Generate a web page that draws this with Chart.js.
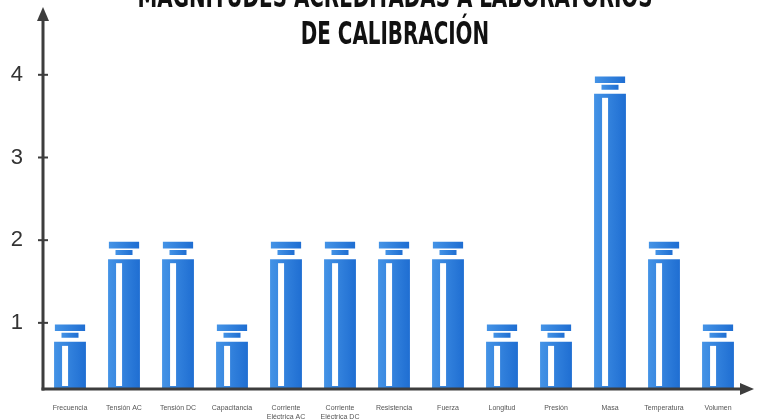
<!DOCTYPE html>
<html>
<head>
<meta charset="utf-8">
<script src="https://cdn.jsdelivr.net/npm/chart.js@4.4.1/dist/chart.umd.min.js"></script>
<style>
    html, body { margin: 0; padding: 0; background: #fff; overflow: hidden; }
    #wrap { position: relative; width: 758px; height: 419px; }
    #title {
        position: absolute; left: 16px; top: -22px; width: 758px;
        text-align: center;
        font-family: 'DejaVu Sans Condensed', 'Liberation Sans', sans-serif;
        font-weight: bold; font-size: 32px; line-height: 37px; color: #111;
        transform: scaleX(0.69); transform-origin: 50% 0;
    }
</style>
</head>
<body>
<div id="wrap">
    <canvas id="chart" width="758" height="419"></canvas>
    <div id="title">MAGNITUDES ACREDITADAS A LABORATORIOS<br>DE CALIBRACIÓN</div>
</div>
<script>
// Datos
const categories = [
    'Frecuencia', 'Tensión AC', 'Tensión DC', 'Capacitancia',
    ['Corriente', 'Eléctrica AC'], ['Corriente', 'Eléctrica DC'],
    'Resistencia', 'Fuerza', 'Longitud', 'Presión', 'Masa', 'Temperatura', 'Volumen'
];
const counts = [1, 2, 2, 1, 2, 2, 2, 2, 1, 1, 4, 2, 1];
const yTicks = [1, 2, 3, 4];

const Y_MIN = 0.2;
const Y_MAX = 4.6;
const AXIS = '#3d3d3d';

// each bar is drawn like a calibration weight: body, neck and cap
const bodyData = counts.map(v => [Y_MIN, v - 0.23]);
const neckData = counts.map(v => [v - 0.18, v - 0.12]);
const capData = counts.map(v => [v - 0.1, v - 0.02]);

// light on the left, darker on the right, once the bar has a position
function blueFill(c) {
    const el = c.chart.getDatasetMeta(c.datasetIndex).data[c.dataIndex];
    if (!el || !el.width) return '#2f82de';
    const g = c.chart.ctx.createLinearGradient(el.x - el.width / 2, 0, el.x + el.width / 2, 0);
    g.addColorStop(0, '#4493e6');
    g.addColorStop(1, '#1f6ed2');
    return g;
}

// axes with arrows, crossing ticks and the white stripe on each body
const decorPlugin = {
    id: 'decor',
    afterDatasetsDraw(chart) {
        const ctx = chart.ctx;
        const area = chart.chartArea;
        const yScale = chart.scales.y;

        ctx.save();
        ctx.fillStyle = '#ffffff';
        chart.getDatasetMeta(0).data.forEach(el => {
            const left = el.x - el.width / 2 + 8;
            ctx.fillRect(left, el.y + 4, 6, el.base - el.y - 7);
        });

        ctx.strokeStyle = AXIS;
        ctx.fillStyle = AXIS;
        ctx.lineWidth = 3;
        const x0 = area.left;
        const y0 = area.bottom;

        // y axis
        ctx.beginPath();
        ctx.moveTo(x0, y0 + 1.5);
        ctx.lineTo(x0, 18);
        ctx.stroke();
        ctx.beginPath();
        ctx.moveTo(x0, 7);
        ctx.lineTo(x0 - 6, 21);
        ctx.lineTo(x0 + 6, 21);
        ctx.closePath();
        ctx.fill();

        // x axis
        ctx.beginPath();
        ctx.moveTo(x0 - 1.5, y0);
        ctx.lineTo(742, y0);
        ctx.stroke();
        ctx.beginPath();
        ctx.moveTo(754, y0);
        ctx.lineTo(740, y0 - 6);
        ctx.lineTo(740, y0 + 6);
        ctx.closePath();
        ctx.fill();

        // tick marks crossing the y axis
        ctx.lineWidth = 2;
        yTicks.forEach(v => {
            const py = yScale.getPixelForValue(v);
            ctx.beginPath();
            ctx.moveTo(x0 - 5, py);
            ctx.lineTo(x0 + 5, py);
            ctx.stroke();
        });
        ctx.restore();
    }
};

const common = { grouped: false, categoryPercentage: 1, borderWidth: 0, borderSkipped: false, backgroundColor: blueFill };

const chart = new Chart(document.getElementById('chart'), {
    type: 'bar',
    data: {
        labels: categories,
        datasets: [
            { ...common, label: 'cuerpo', data: bodyData, barPercentage: 0.59 },
            { ...common, label: 'cuello', data: neckData, barPercentage: 0.315 },
            { ...common, label: 'tapa', data: capData, barPercentage: 0.56 }
        ]
    },
    options: {
        responsive: false,
        animation: false,
        layout: { padding: { top: 2, right: 13, left: 0, bottom: 0 } },
        plugins: {
            legend: { display: false },
            title: { display: false },
            tooltip: { enabled: false }
        },
        scales: {
            x: {
                offset: true,
                grid: { display: false },
                border: { display: false },
                ticks: {
                    autoSkip: false,
                    maxRotation: 0,
                    padding: 7,
                    color: '#555',
                    font: { family: 'Liberation Sans, Arial, sans-serif', size: 7 }
                },
                afterFit(scale) { scale.height = 30; }
            },
            y: {
                min: Y_MIN,
                max: Y_MAX,
                grid: { display: false },
                border: { display: false },
                afterBuildTicks(scale) { scale.ticks = yTicks.map(v => ({ value: v })); },
                ticks: {
                    padding: 12,
                    color: '#333',
                    font: { family: 'Liberation Sans, Arial, sans-serif', size: 22 }
                },
                afterFit(scale) { scale.width = 43; }
            }
        }
    },
    plugins: [decorPlugin]
});
chart.update();
</script>
</body>
</html>
